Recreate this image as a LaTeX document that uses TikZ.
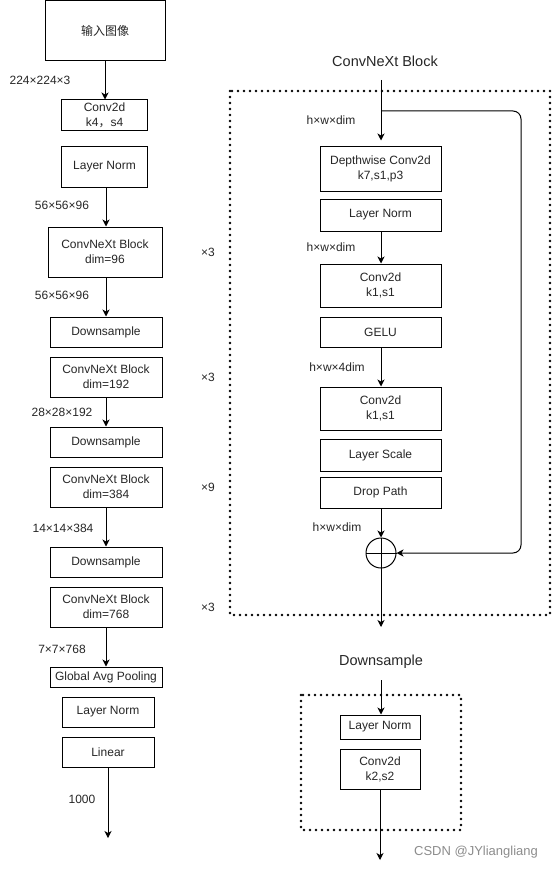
\documentclass[tikz,border=0pt]{standalone}
\usepackage{fontspec}
\setmainfont{Liberation Sans}
\newfontfamily\cjk{Noto Sans CJK SC}
\usetikzlibrary{arrows.meta}
\begin{document}
\begin{tikzpicture}[x=1pt,y=-1pt,
  box/.style={draw,line width=1pt,fill=white,inner sep=0pt,align=center,font=\fontsize{12}{15}\selectfont,text=black!85},
  lbl/.style={inner sep=0pt,font=\fontsize{12}{15}\selectfont,text=black!85},
  ttl/.style={inner sep=0pt,font=\fontsize{14.5}{17}\selectfont,text=black!85},
  arr/.style={line width=1pt,-{Stealth[length=7pt,width=7pt,inset=2pt]}},
  ln/.style={line width=1pt},
  dotframe/.style={line width=2.6pt,dash pattern=on 0pt off 6pt,line cap=round}
]
\useasboundingbox (0,0) rectangle (553,869);
% ---------- left column ----------
\node[box,minimum width=120pt,minimum height=60pt] (in) at (105,30.5) {{\cjk 输入图像}};
\node[box,minimum width=86pt,minimum height=31pt] (c1) at (104.5,115.5) {Conv2d\\k4{\cjk ，}s4};
\node[box,minimum width=86pt,minimum height=40pt] (ln1) at (104.5,167) {Layer Norm};
\node[box,minimum width=114pt,minimum height=50pt] (b1) at (105,252) {ConvNeXt Block\\dim=96};
\node[box,minimum width=112pt,minimum height=30pt] (ds1) at (106,332) {Downsample};
\node[box,minimum width=112pt,minimum height=40pt] (b2) at (106,377) {ConvNeXt Block\\dim=192};
\node[box,minimum width=112pt,minimum height=30pt] (ds2) at (106,442) {Downsample};
\node[box,minimum width=112pt,minimum height=40pt] (b3) at (106,487) {ConvNeXt Block\\dim=384};
\node[box,minimum width=112pt,minimum height=30pt] (ds3) at (106,562) {Downsample};
\node[box,minimum width=112pt,minimum height=40pt] (b4) at (106,607) {ConvNeXt Block\\dim=768};
\node[box,minimum width=112pt,minimum height=20pt] (gap) at (106,677) {Global Avg Pooling};
\node[box,minimum width=92pt,minimum height=30pt] (ln2) at (108,712) {Layer Norm};
\node[box,minimum width=92pt,minimum height=30pt] (lin) at (108,752) {Linear};
\coordinate (out) at (108,838);

\draw[arr] (in.south -| 105,0) -- (105,0 |- c1.north);
\draw[arr] (ln1.south -| 106,0) -- (106,0 |- b1.north);
\draw[arr] (b1.south -| 106,0) -- (106,0 |- ds1.north);
\draw[arr] (b2.south -| 106,0) -- (106,0 |- ds2.north);
\draw[arr] (b3.south -| 106,0) -- (106,0 |- ds3.north);
\draw[arr] (b4.south -| 106,0) -- (106,0 |- gap.north);
\draw[arr] (lin.south) -- (out);

\node[lbl] (l1) at (40,80) {224×224×3};
\node[lbl] (l2) at (62,205) {56×56×96};
\node[lbl] (l3) at (62,295) {56×56×96};
\node[lbl] (l4) at (62,412) {28×28×192};
\node[lbl] (l5) at (63,528) {14×14×384};
\node[lbl] (l6) at (62,649) {7×7×768};
\node[lbl] (l7) at (82,799) {1000};
\node[lbl] (r1) at (208,252) {×3};
\node[lbl] (r2) at (208,377) {×3};
\node[lbl] (r3) at (208,487) {×9};
\node[lbl] (r4) at (208,607) {×3};

% ---------- ConvNeXt Block detail ----------
\node[ttl] (t1) at (385,61) {ConvNeXt Block};
\draw[dotframe] (230,91) rectangle (550,615);
\coordinate (tin) at (381,80);
\coordinate (split) at (381,111);
\coordinate (corner1) at (521,111);
\coordinate (corner2) at (521,553);
\node[box,minimum width=121pt,minimum height=44pt] (dw) at (380.5,169) {Depthwise Conv2d\\k7,s1,p3};
\node[box,minimum width=121pt,minimum height=32pt] (rln) at (380.5,215) {Layer Norm};
\node[box,minimum width=121pt,minimum height=43pt] (rc1) at (380.5,285.5) {Conv2d\\k1,s1};
\node[box,minimum width=121pt,minimum height=30pt] (gelu) at (380.5,332) {GELU};
\node[box,minimum width=121pt,minimum height=43pt] (rc2) at (380.5,408.5) {Conv2d\\k1,s1};
\node[box,minimum width=121pt,minimum height=32pt] (ls) at (380.5,455) {Layer Scale};
\node[box,minimum width=121pt,minimum height=31pt] (dp) at (380.5,492.5) {Drop Path};
\node[draw,line width=1pt,circle,minimum size=30pt,inner sep=0pt] (add) at (381,553) {};
\draw[ln] (add.north) -- (add.south);
\draw[ln] (add.west) -- (add.east);
\coordinate (tout) at (381,627);

\draw[arr,shorten >=6pt] (tin) -- (tin |- dw.north);
\draw[arr] (rln.south -| 381,0) -- (381,0 |- rc1.north);
\draw[arr] (gelu.south -| 381,0) -- (381,0 |- rc2.north);
\draw[arr] (dp.south -| 381,0) -- (add.north);
\draw[arr,rounded corners=8pt] (split) -- (corner1) -- (corner2) -- (add.east);
\draw[arr] (add.south) -- (tout);

\node[lbl] (h1) at (331,120) {h×w×dim};
\node[lbl] (h2) at (331,247) {h×w×dim};
\node[lbl] (h3) at (337,367) {h×w×4dim};
\node[lbl] (h4) at (337,527) {h×w×dim};

% ---------- Downsample detail ----------
\node[ttl] (t2) at (381,662) {Downsample};
\draw[dotframe] (301,695) rectangle (461,830);
\coordinate (din) at (381,680);
\node[box,minimum width=80pt,minimum height=24pt] (lnd) at (380,727) {Layer Norm};
\node[box,minimum width=80pt,minimum height=40pt] (cd) at (380,769) {Conv2d\\k2,s2};
\coordinate (dout) at (380,860);
\draw[arr] (din) -- (din |- lnd.north);
\draw[arr] (cd.south) -- (dout);

\node[inner sep=0pt,font=\fontsize{13}{15}\selectfont,text=black!45] (wm) at (476,852) {CSDN @JYliangliang};
\end{tikzpicture}
\end{document}
